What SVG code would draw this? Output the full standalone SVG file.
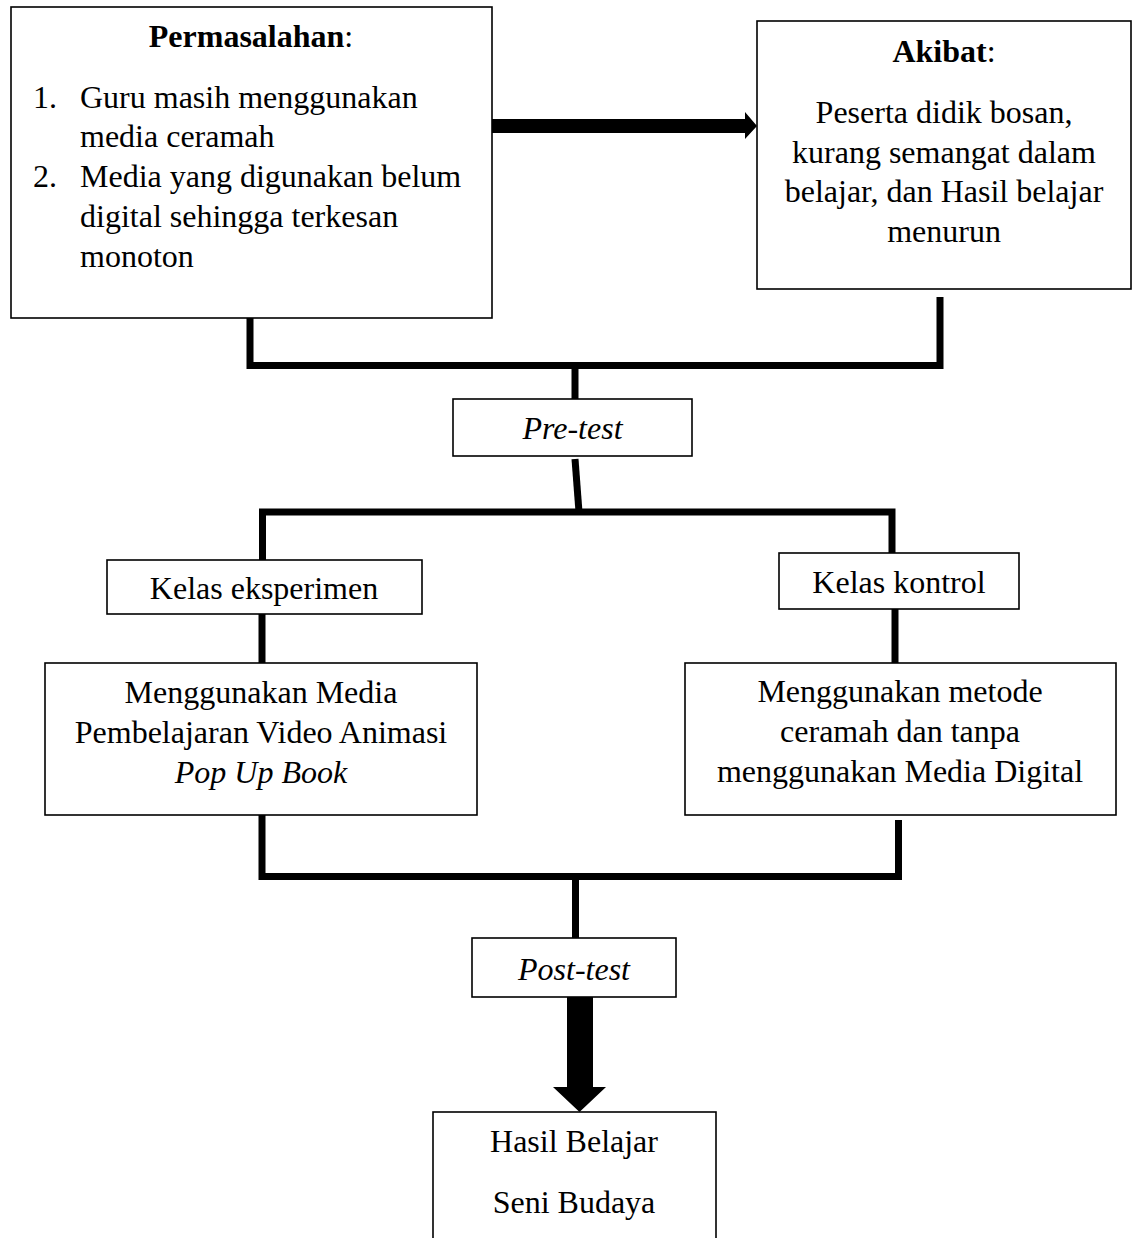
<svg xmlns="http://www.w3.org/2000/svg" width="1139" height="1238" viewBox="0 0 1139 1238">
<style>
.box{fill:#fff;stroke:#000;stroke-width:1.6}
.t{font-family:"Liberation Serif","Times New Roman",serif;font-size:32px;fill:#000}
.c{text-anchor:middle}
.i{font-style:italic}
.b{font-weight:bold}
.con{fill:none;stroke:#000;stroke-width:7;stroke-linejoin:miter;stroke-linecap:butt}
</style>
<rect width="1139" height="1238" fill="#fff"/>
<g id="connectors">
<path class="con" d="M250,318 V365.5 H940 V297"/>
<path class="con" d="M575,365 V399"/>
<path class="con" d="M575,459 L579,512"/>
<path class="con" d="M262.5,560 V512 H892 V553"/>
<path class="con" d="M262,614 V663"/>
<path class="con" d="M895,607 V663"/>
<path class="con" d="M262,815 V876.5 H898.5 V820"/>
<path class="con" d="M575.5,876 V938"/>
<polygon points="491,119 745,119 745,112 757,126 745,139 745,133 491,133" fill="#000"/>
<polygon points="567,996 593,996 593,1087 606,1087 579.5,1112 553,1087 567,1087" fill="#000"/>
</g>
<g id="permasalahan">
<rect class="box" x="11" y="7" width="481" height="311"/>
<text class="t c" x="251" y="47"><tspan class="b">Permasalahan</tspan>:</text>
<text class="t" x="33" y="108">1.</text>
<text class="t" x="80" y="108">Guru masih menggunakan</text>
<text class="t" x="80" y="147">media ceramah</text>
<text class="t" x="33" y="187">2.</text>
<text class="t" x="80" y="187">Media yang digunakan belum</text>
<text class="t" x="80" y="227">digital sehingga terkesan</text>
<text class="t" x="80" y="267">monoton</text>
</g>
<g id="akibat">
<rect class="box" x="757" y="21" width="374" height="268"/>
<text class="t c" x="944" y="62"><tspan class="b">Akibat</tspan>:</text>
<text class="t c" x="944" y="123">Peserta didik bosan,</text>
<text class="t c" x="944" y="163">kurang semangat dalam</text>
<text class="t c" x="944" y="202">belajar, dan Hasil belajar</text>
<text class="t c" x="944" y="242">menurun</text>
</g>
<g id="pretest">
<rect class="box" x="453" y="399" width="239" height="57"/>
<text class="t c i" x="572.5" y="439">Pre-test</text>
</g>
<g id="kelas-eksperimen">
<rect class="box" x="107" y="560" width="315" height="54"/>
<text class="t c" x="264" y="599">Kelas eksperimen</text>
</g>
<g id="kelas-kontrol">
<rect class="box" x="779" y="553" width="240" height="56"/>
<text class="t c" x="899" y="593">Kelas kontrol</text>
</g>
<g id="media-video">
<rect class="box" x="45" y="663" width="432" height="152"/>
<text class="t c" x="261" y="703">Menggunakan Media</text>
<text class="t c" x="261" y="743">Pembelajaran Video Animasi</text>
<text class="t c i" x="261" y="783">Pop Up Book</text>
</g>
<g id="metode-ceramah">
<rect class="box" x="685" y="663" width="431" height="152"/>
<text class="t c" x="900" y="702">Menggunakan metode</text>
<text class="t c" x="900" y="742">ceramah dan tanpa</text>
<text class="t c" x="900" y="782">menggunakan Media Digital</text>
</g>
<g id="posttest">
<rect class="box" x="472" y="938" width="204" height="59"/>
<text class="t c i" x="574" y="980">Post-test</text>
</g>
<g id="hasil-belajar">
<rect class="box" x="433" y="1112" width="283" height="140"/>
<text class="t c" x="574" y="1152">Hasil Belajar</text>
<text class="t c" x="574" y="1213">Seni Budaya</text>
</g>
</svg>
